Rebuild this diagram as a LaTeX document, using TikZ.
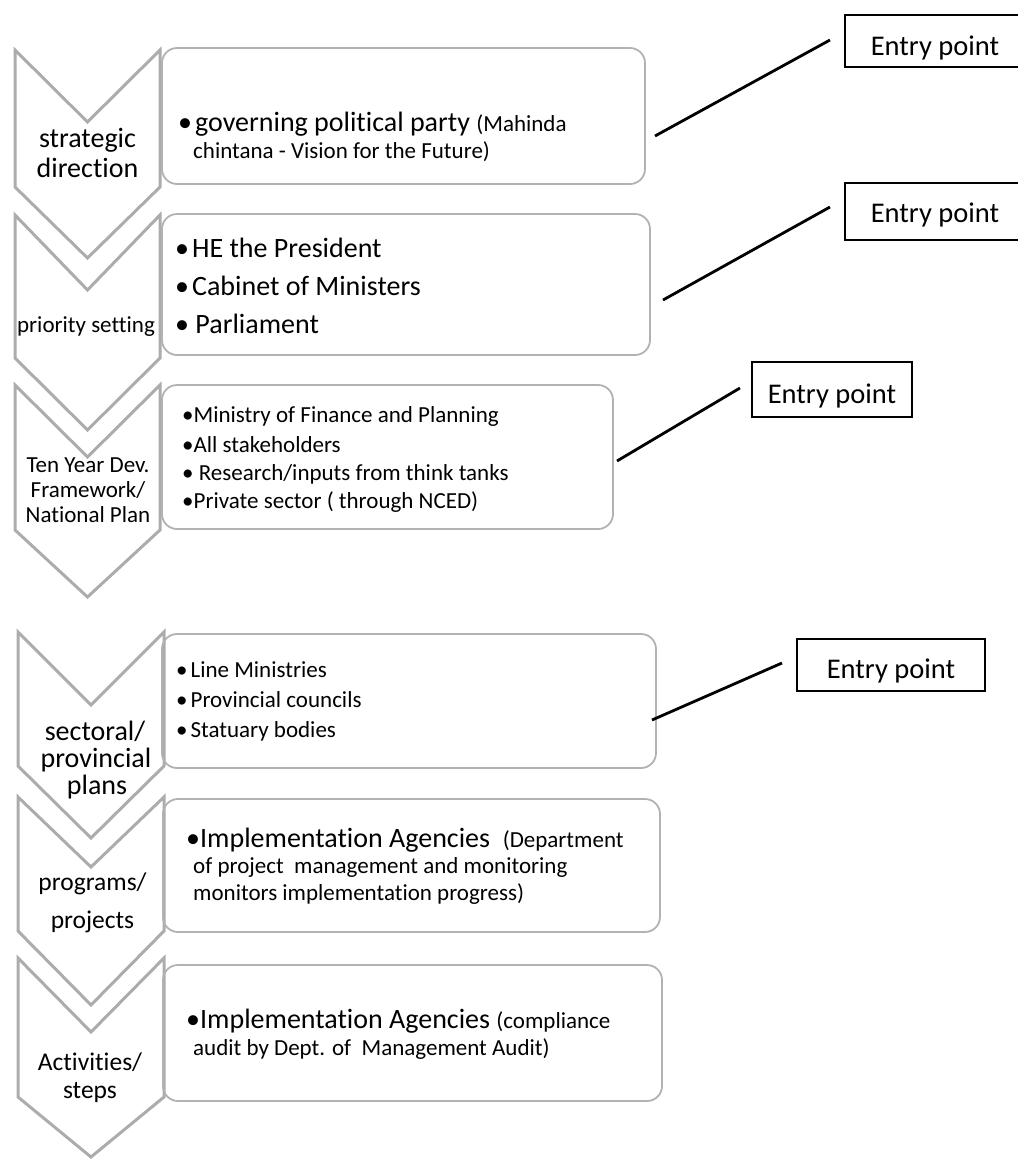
\documentclass[tikz,border=0pt]{standalone}
\usepackage{fontspec}
\setmainfont{Carlito}[Ligatures=NoCommon]
\newcommand\chevshape[6]{\draw[chev] (#1,#3) -- ({(#1+#2)/2},#4) -- (#2,#3) -- (#2,#5) -- ({(#1+#2)/2},#6) -- (#1,#5) -- cycle;}
\newcommand\midsz{\fontsize{23}{28}\selectfont}
\newcommand\bul{•\hspace{3pt}}
\begin{document}
\begin{tikzpicture}[x=1pt,y=-1pt,
  chev/.style={draw=gray!65, line width=3pt, line join=miter},
  infobox/.style={draw=gray!60, line width=1.8pt, rounded corners=15pt, rectangle, inner sep=0pt},
  entrybox/.style={draw=black, line width=1.5pt, rectangle, inner sep=0pt, font=\fontsize{28.5}{34}\selectfont},
  lead/.style={draw=black, line width=2.8pt},
  big/.style={font=\fontsize{28}{34}\selectfont, inner sep=0pt},
  bigc/.style={font=\fontsize{25.5}{30}\selectfont, inner sep=0pt},
  mid/.style={font=\fontsize{23}{28}\selectfont, inner sep=0pt}]
\useasboundingbox (0,0) rectangle (1018,1160);
\clip (0,0) rectangle (1018,1160);

% chevrons
\chevshape{15}{160}{50}{122}{187}{258}
\chevshape{15}{160}{215}{290}{358}{430}
\chevshape{15}{160}{385}{457}{530}{597}
\chevshape{18}{164}{632}{705}{766}{838}
\chevshape{18}{164}{797}{867}{931}{1005}
\chevshape{18}{164}{958}{1032}{1097}{1157}

% chevron labels
\node[big, anchor=base] (c1a) at (87.5,147) {strategic};
\node[big, anchor=base] (c1b) at (87.5,177) {direction};
\node[mid, anchor=base] (c2a) at (86,332) {priority setting};
\node[mid, anchor=base] (c3a) at (88,472) {Ten Year Dev.};
\node[mid, anchor=base] (c3b) at (88,497) {Framework/};
\node[mid, anchor=base] (c3c) at (88,522) {National Plan};
\node[big, anchor=base] (c4a) at (95,740) {sectoral/};
\node[big, anchor=base] (c4b) at (96,767) {provincial};
\node[big, anchor=base] (c4c) at (97,794) {plans};
\node[bigc, anchor=base] (c5a) at (92.5,890) {programs/};
\node[bigc, anchor=base] (c5b) at (92.5,928) {projects};
\node[bigc, anchor=base] (c6a) at (90,1070) {Activities/};
\node[bigc, anchor=base] (c6b) at (90,1098) {steps};

% info boxes
\node[infobox, minimum width=483pt, minimum height=136pt] (b1) at (403.5,116) {};
\node[infobox, minimum width=488pt, minimum height=141pt] (b2) at (406,284.5) {};
\node[infobox, minimum width=451pt, minimum height=144pt] (b3) at (387.5,457) {};
\node[infobox, minimum width=494pt, minimum height=134pt] (b4) at (409,701) {};
\node[infobox, minimum width=497pt, minimum height=133pt] (b5) at (411.5,865.5) {};
\node[infobox, minimum width=499pt, minimum height=136pt] (b6) at (412.5,1033) {};

% box texts
\node[big, anchor=base west] (t1a) at (178,131) {\bul governing political party {\midsz(Mahinda}};
\node[mid, anchor=base west] (t1b) at (193,158) {chintana - Vision for the Future)};

\node[big, anchor=base west] (t2a) at (175,257) {\bul HE the President};
\node[big, anchor=base west] (t2b) at (175,295) {\bul Cabinet of Ministers};
\node[big, anchor=base west] (t2c) at (175,333) {• Parliament};

\node[mid, anchor=base west] (t3a) at (182,422) {•Ministry of Finance and Planning};
\node[mid, anchor=base west] (t3b) at (182,452) {•All stakeholders};
\node[mid, anchor=base west] (t3c) at (182,480) {• Research/inputs from think tanks};
\node[mid, anchor=base west] (t3d) at (182,508) {•Private sector ( through NCED)};

\node[mid, anchor=base west] (t4a) at (176,677) {\bul Line Ministries};
\node[mid, anchor=base west] (t4b) at (176,707) {\bul Provincial councils};
\node[mid, anchor=base west] (t4c) at (176,737) {\bul Statuary bodies};

\node[big, anchor=base west] (t5a) at (186,847) {•Implementation Agencies \ {\midsz(Department}};
\node[mid, anchor=base west] (t5b) at (193,873) {of project \ management and monitoring};
\node[mid, anchor=base west] (t5c) at (193,900) {monitors implementation progress)};

\node[big, anchor=base west] (t6a) at (186,1028) {•Implementation Agencies {\midsz(compliance}};
\node[mid, anchor=base west] (t6b) at (193,1055) {audit by Dept. of \ Management Audit)};

% entry point boxes
\node[entrybox, minimum width=180pt, text height=40pt, text depth=12pt] (e1) at (935,41) {Entry point};
\node[entrybox, minimum width=180pt, text height=39pt, text depth=18pt] (e2) at (935,211.5) {Entry point};
\node[entrybox, minimum width=160pt, text height=41pt, text depth=14pt] (e3) at (832,389.5) {Entry point};
\node[entrybox, minimum width=188pt, text height=39pt, text depth=13pt] (e4) at (891,665) {Entry point};

% leader lines
\coordinate (l1a) at (655,136); \coordinate (l1b) at (830,40);
\coordinate (l2a) at (663,300); \coordinate (l2b) at (830,207);
\coordinate (l3a) at (617,461); \coordinate (l3b) at (740,388);
\coordinate (l4a) at (652,720); \coordinate (l4b) at (782,663);
\draw[lead] (l1a) -- (l1b);
\draw[lead] (l2a) -- (l2b);
\draw[lead] (l3a) -- (l3b);
\draw[lead] (l4a) -- (l4b);
\end{tikzpicture}
\end{document}
